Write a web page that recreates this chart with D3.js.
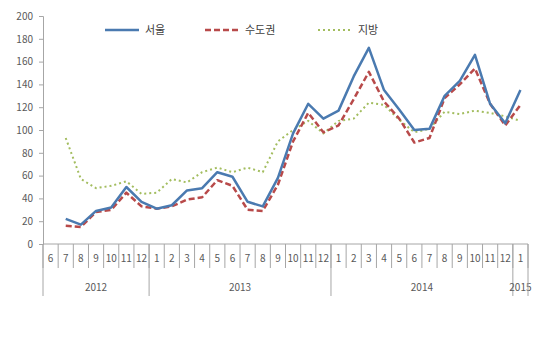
<!DOCTYPE html>
<html>
<head>
<meta charset="utf-8">
<script src="https://cdn.jsdelivr.net/npm/d3@7"></script>
<style>
  body { margin: 0; background: #fff; }
  text { font-family: "Noto Sans CJK KR", "DejaVu Sans", sans-serif; }
</style>
</head>
<body>
<svg id="chart" width="550" height="339"></svg>
<script>
// 월 / 연도 라벨
const months = ["6","7","8","9","10","11","12",
  "1","2","3","4","5","6","7","8","9","10","11","12",
  "1","2","3","4","5","6","7","8","9","10","11","12",
  "1"];
const years = [
  { label: "2012", count: 7 },
  { label: "2013", count: 12 },
  { label: "2014", count: 12 },
  { label: "2015", count: 1 }
];
const seriesNames = ["서울", "수도권", "지방"];
// 값 (2012-6 은 빈 값)
const seoul = [null, 22, 17, 29, 32, 50, 37,
  31, 34, 47, 49, 63, 59, 37, 33, 58, 97, 123, 110,
  117, 147, 172, 135, 118, 100, 101, 130, 143, 166, 123, 106,
  135];
const capital = [null, 16, 15, 28, 30, 45, 33,
  31, 33, 39, 41, 56, 51, 30, 29, 52, 90, 115, 98,
  104, 127, 151, 125, 110, 89, 93, 128, 140, 154, 123, 104,
  122];
const region = [null, 93, 57, 49, 51, 55, 44,
  45, 57, 54, 63, 67, 63, 67, 63, 90, 100, 108, 97,
  108, 110, 124, 122, 109, 98, 101, 116, 114, 117, 115, 112,
  108];
const yTicks = [0, 20, 40, 60, 80, 100, 120, 140, 160, 180, 200];

const svg = d3.select("#chart");
const marge = { top: 16, left: 43, right: 22, bottom: 95 };
const width = 550 - marge.left - marge.right;
const height = 339 - marge.top - marge.bottom;
const g = svg.append("g").attr("transform", `translate(${marge.left},${marge.top})`);

const x = d3.scaleBand().domain(d3.range(months.length)).range([0, width]).padding(0);
const y = d3.scaleLinear().domain([0, 200]).range([height, 0]);
const axisColor = "#a6a6a6";
const textColor = "#595959";

// y 축
const yAxis = g.append("g").call(d3.axisLeft(y).tickValues(yTicks).tickSize(4).tickPadding(6));
yAxis.select(".domain").attr("stroke", axisColor);
yAxis.selectAll(".tick line").attr("stroke", axisColor);
yAxis.selectAll("text").attr("fill", textColor).style("font-size", "10px");

// x 축 (월)
const xg = g.append("g").attr("transform", `translate(0,${height})`);
xg.append("line").attr("x1", 0).attr("x2", width).attr("stroke", axisColor);
xg.selectAll(".mtick").data(d3.range(months.length + 1)).enter().append("line")
  .attr("x1", i => i < months.length ? x(i) : width)
  .attr("x2", i => i < months.length ? x(i) : width)
  .attr("y1", 0).attr("y2", 24).attr("stroke", axisColor);
xg.selectAll(".mlabel").data(months).enter().append("text")
  .attr("x", (d, i) => x(i) + x.bandwidth() / 2)
  .attr("y", 18).attr("text-anchor", "middle")
  .attr("fill", textColor).style("font-size", "10px")
  .text(d => d);

// 연도 구분
let start = 0;
years.forEach(yr => {
  const x0 = x(start);
  const x1 = start + yr.count < months.length ? x(start + yr.count) : width;
  xg.append("line").attr("x1", x0).attr("x2", x0).attr("y1", 0).attr("y2", 52).attr("stroke", axisColor);
  xg.append("text").attr("x", (x0 + x1) / 2).attr("y", 47).attr("text-anchor", "middle")
    .attr("fill", textColor).style("font-size", "10px").text(yr.label);
  start += yr.count;
});
xg.append("line").attr("x1", width).attr("x2", width).attr("y1", 0).attr("y2", 52).attr("stroke", axisColor);

// 선
const styles = [
  { data: seoul, color: "#4a7ab0", width: 2.5, dash: null },
  { data: capital, color: "#b84a4a", width: 2.5, dash: "6,3" },
  { data: region, color: "#a3bd5f", width: 2, dash: "2,3" }
];
const line = d3.line()
  .defined(d => d != null)
  .x((d, i) => x(i) + x.bandwidth() / 2)
  .y(d => y(d));
styles.slice().reverse().forEach(s => {
  g.append("path").datum(s.data)
    .attr("fill", "none").attr("stroke", s.color)
    .attr("stroke-width", s.width)
    .attr("stroke-dasharray", s.dash)
    .attr("stroke-linejoin", "round")
    .attr("d", line);
});

// 범례
const legendX = [105, 205, 318];
styles.forEach((s, i) => {
  const lg = svg.append("g").attr("transform", `translate(${legendX[i]},30)`);
  lg.append("line").attr("x1", 0).attr("x2", 34).attr("y1", 0).attr("y2", 0)
    .attr("stroke", s.color).attr("stroke-width", s.width).attr("stroke-dasharray", s.dash);
  lg.append("text").attr("x", 40).attr("y", 4).attr("fill", "#404040")
    .style("font-size", "11px").text(seriesNames[i]);
});
</script>
</body>
</html>
